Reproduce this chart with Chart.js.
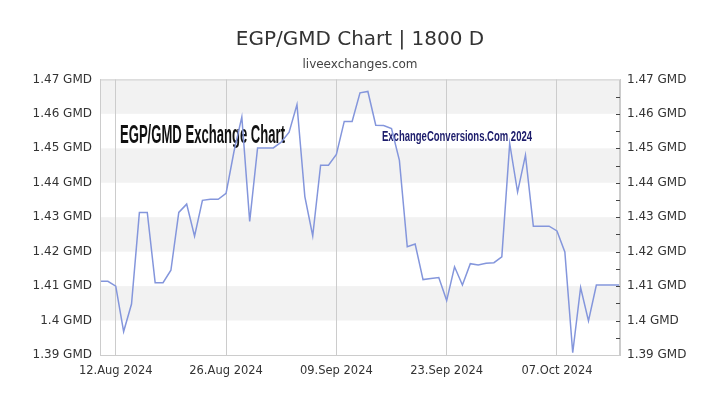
<!DOCTYPE html>
<html>
<head>
<meta charset="utf-8">
<title>EGP/GMD Chart | 1800 D</title>
<script src="https://cdn.jsdelivr.net/npm/chart.js@4.4.1/dist/chart.umd.min.js"></script>
<style>
html, body { margin: 0; padding: 0; background: #fff; }
canvas { display: block; }
</style>
</head>
<body>
<canvas id="rate-chart" width="720" height="405"></canvas>
<script>
var categories = [
  '10.Aug 2024', '11.Aug 2024', '12.Aug 2024', '13.Aug 2024', '14.Aug 2024', '15.Aug 2024', '16.Aug 2024',
  '17.Aug 2024', '18.Aug 2024', '19.Aug 2024', '20.Aug 2024', '21.Aug 2024', '22.Aug 2024', '23.Aug 2024',
  '24.Aug 2024', '25.Aug 2024', '26.Aug 2024', '27.Aug 2024', '28.Aug 2024', '29.Aug 2024', '30.Aug 2024',
  '31.Aug 2024', '01.Sep 2024', '02.Sep 2024', '03.Sep 2024', '04.Sep 2024', '05.Sep 2024', '06.Sep 2024',
  '07.Sep 2024', '08.Sep 2024', '09.Sep 2024', '10.Sep 2024', '11.Sep 2024', '12.Sep 2024', '13.Sep 2024',
  '14.Sep 2024', '15.Sep 2024', '16.Sep 2024', '17.Sep 2024', '18.Sep 2024', '19.Sep 2024', '20.Sep 2024',
  '21.Sep 2024', '22.Sep 2024', '23.Sep 2024', '24.Sep 2024', '25.Sep 2024', '26.Sep 2024', '27.Sep 2024',
  '28.Sep 2024', '29.Sep 2024', '30.Sep 2024', '01.Oct 2024', '02.Oct 2024', '03.Oct 2024', '04.Oct 2024',
  '05.Oct 2024', '06.Oct 2024', '07.Oct 2024', '08.Oct 2024', '09.Oct 2024', '10.Oct 2024', '11.Oct 2024',
  '12.Oct 2024', '13.Oct 2024', '14.Oct 2024', '15.Oct 2024'
];
var rates = [
  1.4114, 1.4114, 1.4100, 1.3968, 1.4048, 1.4314, 1.4314,
  1.4110, 1.4110, 1.4146, 1.4314, 1.4338, 1.4245, 1.4349,
  1.4352, 1.4352, 1.4369, 1.4490, 1.4591, 1.4288, 1.4501,
  1.4501, 1.4501, 1.4518, 1.4547, 1.4627, 1.4360, 1.4246,
  1.4451, 1.4451, 1.4482, 1.4578, 1.4578, 1.4661, 1.4665,
  1.4567, 1.4566, 1.4557, 1.4465, 1.4214, 1.4222, 1.4119,
  1.4122, 1.4125, 1.4058, 1.4156, 1.4103, 1.4165, 1.4161,
  1.4166, 1.4168, 1.4185, 1.4514, 1.4373, 1.4480, 1.4274,
  1.4274, 1.4274, 1.4260, 1.4199, 1.3907, 1.4096, 1.3999,
  1.4103, 1.4103, 1.4103, 1.4103
];
var tickLabels = ['12.Aug 2024', '26.Aug 2024', '09.Sep 2024', '23.Sep 2024', '07.Oct 2024'];
var yMin = 1.39;
var yMax = 1.47;
var watermark = 'EGP/GMD Exchange Chart';
var credit = 'ExchangeConversions.Com 2024';

Chart.defaults.font.family = "'DejaVu Sans', sans-serif";
Chart.defaults.color = '#333';

function gmd(v){
  return parseFloat(v.toFixed(2)) + ' GMD';
}
function isMajor(v){
  return Math.abs(Math.round(v * 100) - v * 100) < 1e-6;
}
// squeeze text to a given width, the original uses a condensed face
function condensedText(ctx, text, x, y, font, color, width){
  ctx.save();
  ctx.font = font;
  ctx.fillStyle = color;
  ctx.textBaseline = 'alphabetic';
  ctx.textAlign = 'left';
  var w = ctx.measureText(text).width;
  ctx.translate(x, y);
  ctx.scale(width / w, 1);
  ctx.fillText(text, 0, 0);
  ctx.restore();
}

var decorPlugin = {
  id: 'decor',
  beforeDraw: function(chart){
    var ctx = chart.ctx, area = chart.chartArea, y = chart.scales.y;
    var ticks = y.ticks;
    ctx.save();
    ctx.fillStyle = '#f2f2f2';
    for (var i = 1; i < ticks.length - 1; i += 2) {
      var top = y.getPixelForValue(ticks[i + 1].value);
      var bottom = y.getPixelForValue(ticks[i].value);
      ctx.fillRect(area.left, top, area.right - area.left, bottom - top);
    }
    ctx.restore();
  },
  beforeDatasetsDraw: function(chart){
    var ctx = chart.ctx, area = chart.chartArea;
    condensedText(ctx, watermark, area.left + 20, area.top + 64, 'bold 25px "Liberation Sans Narrow", "Liberation Sans", sans-serif', '#111', 165);
    condensedText(ctx, credit, area.left + 282, area.top + 62, 'bold 15px "Liberation Sans Narrow", "Liberation Sans", sans-serif', '#1c1c6b', 150);
  },
  afterDraw: function(chart){
    var ctx = chart.ctx, area = chart.chartArea, y2 = chart.scales.y2;
    ctx.save();
    ctx.strokeStyle = '#ccc';
    ctx.lineWidth = 1;
    ctx.strokeRect(area.left + 0.5, area.top + 0.5, area.right - area.left - 1, area.bottom - area.top);
    ctx.strokeStyle = '#444';
    ctx.beginPath();
    for (var i = 1; i < y2.ticks.length - 1; i++) {
      var py = Math.round(y2.getPixelForValue(y2.ticks[i].value)) + 0.5;
      ctx.moveTo(area.right - 4, py);
      ctx.lineTo(area.right, py);
    }
    ctx.stroke();
    ctx.restore();
  }
};

var chart = new Chart(document.getElementById('rate-chart').getContext('2d'), {
  type: 'line',
  data: {
    labels: categories,
    datasets: [{
      data: rates,
      borderColor: '#8496dc',
      borderWidth: 1.5,
      pointRadius: 0,
      tension: 0,
      fill: false,
      yAxisID: 'y'
    }]
  },
  options: {
    responsive: false,
    animation: false,
    devicePixelRatio: 1,
    layout: { padding: 0 },
    plugins: {
      legend: { display: false },
      tooltip: { enabled: false },
      title: {
        display: true,
        text: 'EGP/GMD Chart | 1800 D',
        color: '#333',
        font: { size: 20, weight: 'normal' },
        padding: { top: 28, bottom: 0 }
      },
      subtitle: {
        display: true,
        text: 'liveexchanges.com',
        color: '#444',
        font: { size: 12 },
        padding: { top: 6, bottom: 7 }
      }
    },
    scales: {
      x: {
        grid: { color: '#ccc', drawTicks: false },
        border: { color: '#ccc' },
        ticks: { autoSkip: false, maxRotation: 0, padding: 9, font: { size: 11.5 }, color: '#333' },
        afterBuildTicks: function(scale){
          scale.ticks = scale.ticks.filter(function(t){
            return tickLabels.indexOf(categories[t.value]) >= 0;
          });
        },
        afterFit: function(scale){ scale.height = 50; }
      },
      y: {
        position: 'left',
        min: yMin,
        max: yMax,
        grid: { drawOnChartArea: false, drawTicks: false },
        border: { color: '#ccc' },
        ticks: { stepSize: 0.01, maxTicksLimit: 20, padding: 8, font: { size: 12 }, color: '#333', callback: gmd },
        afterFit: function(scale){ scale.width = 100; }
      },
      y2: {
        position: 'right',
        min: yMin,
        max: yMax,
        grid: { drawOnChartArea: false, drawTicks: false },
        border: { color: '#ccc' },
        ticks: {
          stepSize: 0.005, maxTicksLimit: 40, autoSkip: false, padding: 7, font: { size: 12 }, color: '#333',
          callback: function(v){ return isMajor(v) ? gmd(v) : ''; }
        },
        afterFit: function(scale){ scale.width = 100; }
      }
    }
  },
  plugins: [decorPlugin]
});
</script>
</body>
</html>
